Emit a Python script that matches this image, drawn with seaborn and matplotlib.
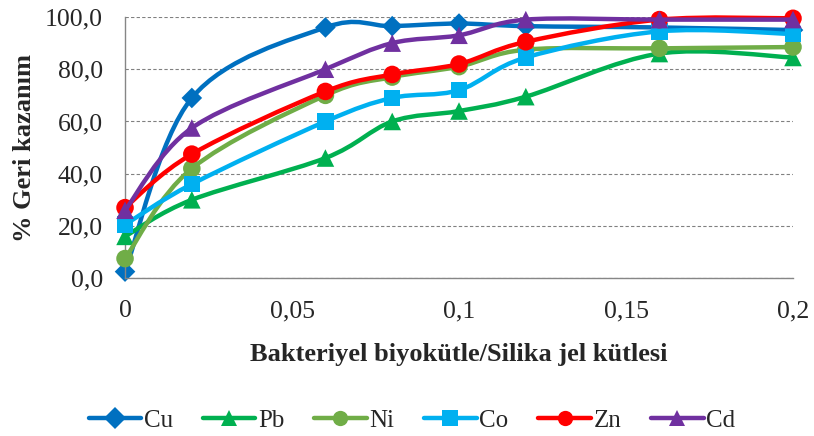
import numpy as np
import pandas as pd
import matplotlib
matplotlib.use("Agg")
import matplotlib.pyplot as plt
from matplotlib.path import Path
from matplotlib.patches import PathPatch
from matplotlib.lines import Line2D
from matplotlib.ticker import FuncFormatter
import seaborn as sns

# data
ratio = [0, 0.02, 0.06, 0.08, 0.1, 0.12, 0.16, 0.2]
cu = [2.5, 69, 96, 96.5, 97.5, 96.5, 96, 95]
pb = [16, 30, 46, 60, 64, 69.5, 86, 84.5]
ni = [7.5, 42, 70, 77, 81, 87.5, 88, 88.5]
co = [20.5, 36, 60, 69, 72, 84.5, 94.5, 93.5]
zn = [27, 47.5, 71.5, 78, 82, 90.5, 99, 99.5]
cd = [26, 57.5, 80, 90, 93, 99, 99, 99]
metals = ["Cu", "Pb", "Ni", "Co", "Zn", "Cd"]

df = pd.DataFrame({"ratio": ratio * 6,
                   "value": cu + pb + ni + co + zn + cd,
                   "metal": [m for m in metals for _ in ratio]})

colors = {"Cu": "#0070C0", "Pb": "#00B050", "Ni": "#70AD47",
          "Co": "#00B0F0", "Zn": "#FF0000", "Cd": "#7030A0"}
markers = {"Cu": "D", "Pb": "^", "Ni": "o", "Co": "s", "Zn": "o", "Cd": "^"}
msize = {"Cu": 110, "Pb": 160, "Ni": 160, "Co": 140, "Zn": 160, "Cd": 160}

sns.set_style("white")
plt.rcParams['font.family'] = ['Liberation Serif', 'DejaVu Serif']

fig = plt.figure(figsize=(8.14, 4.36), dpi=100)
ax = fig.add_axes([0.1536, 0.362, 0.8206, 0.599])


def smooth_path(xs, ys):
    # Excel-style smoothed line: cubic bezier through the points
    pts = np.column_stack([xs, ys])
    verts = [pts[0]]
    codes = [Path.MOVETO]
    n = len(pts)
    for i in range(n - 1):
        p0 = pts[i - 1] if i > 0 else pts[i]
        p1 = pts[i]
        p2 = pts[i + 1]
        p3 = pts[i + 2] if i + 2 < n else pts[i + 1]
        c1 = p1 + (p2 - p0) / 6
        c2 = p2 - (p3 - p1) / 6
        verts += [c1, c2, p2]
        codes += [Path.CURVE4] * 3
    return Path(verts, codes)


for i, m in enumerate(metals):
    sub = df[df.metal == m]
    patch = PathPatch(smooth_path(sub.ratio.values, sub.value.values),
                      facecolor="none", edgecolor=colors[m], lw=3.2,
                      zorder=2 + i, clip_on=False, capstyle="round")
    ax.add_patch(patch)
    sns.scatterplot(data=sub, x="ratio", y="value", color=colors[m],
                    marker=markers[m], s=msize[m], edgecolor="none",
                    zorder=2.5 + i, clip_on=False, ax=ax, legend=False)

ax.set_xlim(0, 0.2)
ax.set_ylim(0, 100)
ax.set_xticks([0, 0.05, 0.1, 0.15, 0.2])
ax.set_yticks(np.arange(0, 101, 20))
ax.xaxis.set_major_formatter(FuncFormatter(lambda v, p: f"{v:g}".replace(".", ",")))
ax.yaxis.set_major_formatter(FuncFormatter(lambda v, p: f"{v:.1f}".replace(".", ",")))
ax.tick_params(axis="both", length=0, labelsize=18.5)
ax.tick_params(axis="x", pad=16)
ax.tick_params(axis="y", pad=16)

ax.grid(axis="y", color="#808080", ls=(0, (3, 2)), lw=0.8)
ax.grid(axis="x", visible=False)
for s in ["top", "right"]:
    ax.spines[s].set_visible(False)
for s in ["left", "bottom"]:
    ax.spines[s].set_color("#868686")
    ax.spines[s].set_linewidth(1.0)

ax.set_xlabel("Bakteriyel biyokütle/Silika jel kütlesi", fontsize=19,
              fontweight="bold", labelpad=15)
ax.set_ylabel("% Geri kazanım", fontsize=19, fontweight="bold", labelpad=6)

handles = [Line2D([], [], color=colors[m], lw=3.2, marker=markers[m],
                  markersize=11, markeredgewidth=0) for m in metals]
fig.legend(handles, metals, loc="center", bbox_to_anchor=(0.506, 0.035),
           ncol=6, frameon=False, fontsize=18, handlelength=2.1,
           handletextpad=0.1, columnspacing=1.2, borderpad=0)

fig.savefig("out.png", dpi=100)
